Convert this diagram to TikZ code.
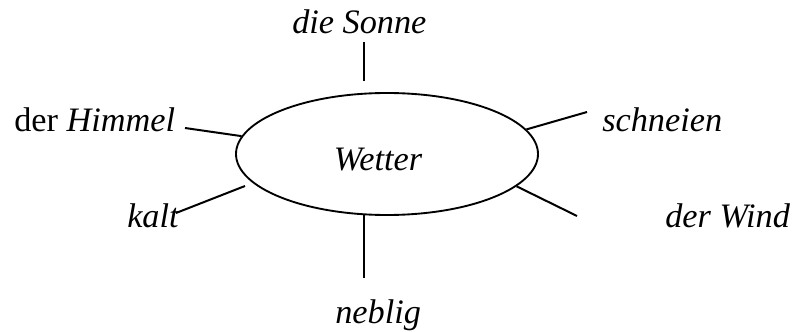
\documentclass[tikz,border=0pt]{standalone}
\usepackage{fontspec}
\setmainfont{Liberation Serif}
\usetikzlibrary{shapes.geometric}

\tikzset{
  wort/.style={anchor=base west, inner sep=0pt, font=\fontsize{25.7}{30}\selectfont\itshape},
  strahl/.style={line width=1.5pt}
}

\begin{document}
\begin{tikzpicture}[x=0.75pt,y=-0.75pt]
          \useasboundingbox (0,0) rectangle (797,332);
          \node[draw, ellipse, line width=1.4pt, minimum width=226.5pt, minimum height=91.5pt, inner sep=0pt] (wetter) at (387,154) {};
          \node[wort, anchor=base] (wettertext) at (378,170) {Wetter};  % Mitte
          \node[wort] (sonne)    at (292,33)  {die Sonne};             % oben
          \node[wort] (himmel)   at (14,131)  {\upshape der \textit{Himmel}}; % links oben
          \node[wort] (schneien) at (602,131) {schneien};              % rechts oben
          \node[wort] (kalt)     at (127,227) {kalt};                  % links unten
          \node[wort] (wind)     at (665,227) {der Wind};              % rechts unten
          \node[wort] (neblig)   at (335,323) {neblig};                % unten
          \coordinate (sonneunten) at (364,81);
          \coordinate (sonneoben)  at (364,42);
          \coordinate (himmelende) at (185,128);
          \coordinate (schneienende) at (587,112);
          \coordinate (kaltanfang) at (245,186);
          \coordinate (kaltende) at (176,213);
          \coordinate (windende) at (577,216);
          \coordinate (nebligoben) at (364,214);
          \coordinate (nebligende) at (364,278);
          \draw[strahl] (sonneunten) -- (sonneoben);
          \draw[strahl] (wetter.173.6) -- (himmelende);
          \draw[strahl] (wetter.10.7) -- (schneienende);
          \draw[strahl] (kaltanfang) -- (kaltende);
          \draw[strahl] (wetter.-14.2) -- (windende);
          \draw[strahl] (nebligoben) -- (nebligende);
        \end{tikzpicture}
\end{document}
